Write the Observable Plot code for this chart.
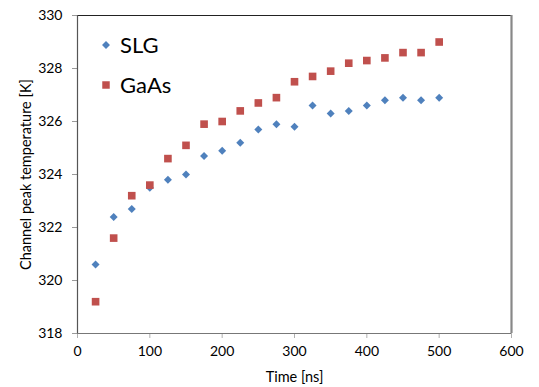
<!DOCTYPE html>
<html>
<head>
<meta charset="utf-8">
<script src="https://cdn.jsdelivr.net/npm/d3@7"></script>
<script src="https://cdn.jsdelivr.net/npm/@observablehq/plot@0.6"></script>
<style>
  html, body { margin: 0; padding: 0; background: #fff; }
  #wrap { position: relative; width: 539px; height: 387px; font-family: Lato, "Open Sans", sans-serif; }
  #remnant { position: absolute; left: 3px; top: 82px; height: 295px; width: 0; border-left: 1px solid #d0d0d0; }
  #legend { position: absolute; left: 100px; top: 25px; font-size: 22px; color: #000; line-height: 40px; }
  #legend div { display: flex; align-items: center; }
  #legend svg { margin-right: 8px; }
</style>
</head>
<body>
<div id="wrap"><div id="remnant"></div></div>
<script>
const times = [25, 50, 75, 100, 125, 150, 175, 200, 225, 250, 275, 300, 325, 350, 375, 400, 425, 450, 475, 500];
const slgValues = [320.6, 322.4, 322.7, 323.5, 323.8, 324.0, 324.7, 324.9, 325.2, 325.7, 325.9, 325.8, 326.6, 326.3, 326.4, 326.6, 326.8, 326.9, 326.8, 326.9];
const gaasValues = [319.2, 321.6, 323.2, 323.6, 324.6, 325.1, 325.9, 326.0, 326.4, 326.7, 326.9, 327.5, 327.7, 327.9, 328.2, 328.3, 328.4, 328.6, 328.6, 329.0];
const seriesNames = ["SLG", "GaAs"];
const seriesColors = ["#4F81BD", "#C0504D"];
const xTicks = [0, 100, 200, 300, 400, 500, 600];
const yTicks = [318, 320, 322, 324, 326, 328, 330];
const xLabel = "Time [ns]";
const yLabel = "Channel peak temperature [K]";

const slg = times.map((t, i) => ({t, v: slgValues[i]}));
const gaas = times.map((t, i) => ({t, v: gaasValues[i]}));

const chart = Plot.plot({
  width: 539,
  height: 387,
  marginLeft: 77,
  marginRight: 28,
  marginTop: 15,
  marginBottom: 54,
  style: {fontFamily: "Lato, 'Open Sans', sans-serif", background: "#fff", color: "#000"},
  x: {domain: [0, 600]},
  y: {domain: [318, 330]},
  marks: [
    Plot.axisY({ticks: yTicks, tickSize: 5, tickPadding: 10, fontSize: 14, stroke: "#9a9a9a",
      label: yLabel, labelAnchor: "center", labelArrow: "none", labelOffset: 57}),
    Plot.axisX({ticks: xTicks, tickSize: 5, tickPadding: 8, fontSize: 14, stroke: "#b0b0b0",
      label: xLabel, labelAnchor: "center", labelArrow: "none", labelOffset: 48}),
    Plot.ruleY([330], {stroke: "#222", strokeWidth: 1.2}),
    Plot.ruleX([600], {stroke: "#888", strokeWidth: 2.2}),
    Plot.ruleY([318], {stroke: "#777", strokeWidth: 1.2}),
    Plot.ruleX([0], {stroke: "#555", strokeWidth: 1.2}),
    Plot.dot(slg, {x: "t", y: "v", symbol: "diamond2", r: 3.6, fill: seriesColors[0], stroke: null}),
    Plot.dot(gaas, {x: "t", y: "v", symbol: "square", r: 4.3, fill: seriesColors[1], stroke: null})
  ]
});
chart.style.position = "absolute";
chart.style.left = "0";
chart.style.top = "0";
chart.querySelectorAll('[aria-label="y-axis label"], [aria-label="x-axis label"]').forEach(g => {
  g.setAttribute("font-size", "14.5");
  g.querySelectorAll("text").forEach(t => t.setAttribute("font-size", "14.5"));
});
const wrap = document.getElementById("wrap");
wrap.appendChild(chart);

const legend = document.createElement("div");
legend.id = "legend";
const symbolPaths = [d3.symbol(d3.symbolDiamond2, 40)(), d3.symbol(d3.symbolSquare, 56)()];
seriesNames.forEach((name, i) => {
  const row = document.createElement("div");
  row.innerHTML = `<svg width="12" height="12" viewBox="-6 -6 12 12"><path d="${symbolPaths[i]}" fill="${seriesColors[i]}"/></svg><span>${name}</span>`;
  legend.appendChild(row);
});
wrap.appendChild(legend);
</script>
</body>
</html>
